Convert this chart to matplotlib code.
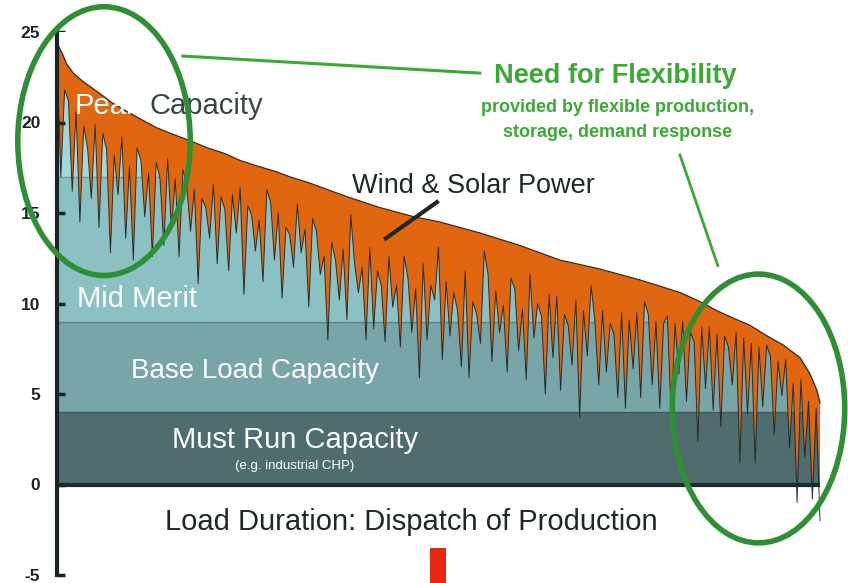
import numpy as np
import matplotlib
matplotlib.use("Agg")
import matplotlib.pyplot as plt
from matplotlib.patches import Ellipse

plt.rcParams['font.family'] = ['Liberation Sans', 'DejaVu Sans']
plt.rcParams['axes.unicode_minus'] = False

# --- dados ---
# curva de duracao de carga (GW) x duracao (% do ano)
load_pct = [0, 0.7, 1.3, 2.2, 3.3, 4.3, 5.6, 7.2, 8.8, 10.9,
            13.1, 15.5, 17.4, 19.7, 21.9, 24.0, 26.2, 28.6, 30.5, 32.8,
            38.0, 42.3, 46.7, 50.2, 55.4, 60.7, 65.9, 71.2, 76.4, 81.7,
            84.3, 86.5, 88.6, 90.8, 93.1, 95.2, 97.4, 98.7, 99.6, 100]
load_gw = [24.4, 23.8, 23.2, 22.7, 22.3, 22.0, 21.6, 21.1, 20.7, 20.2,
           19.7, 19.3, 19.0, 18.6, 18.3, 17.9, 17.6, 17.3, 17.0, 16.7,
           15.9, 15.3, 14.8, 14.5, 13.9, 13.2, 12.4, 11.9, 11.3, 10.6,
           10.1, 9.6, 9.2, 8.8, 8.2, 7.7, 7.0, 6.1, 5.2, 4.5]

# carga residual (carga - eolica/solar), a cada 0.5 %
residual_gw = [
    23.4, 17.0, 21.8, 21.2, 16.2, 20.6, 14.5, 19.8, 18.6, 15.8,
    19.9, 14.2, 19.4, 18.5, 12.8, 18.2, 16.0, 19.2, 13.6, 17.6,
    12.4, 18.6, 17.9, 14.8, 17.2, 12.6, 17.8, 16.9, 13.2, 18.0,
    14.1, 16.9, 12.6, 17.4, 16.5, 14.0, 16.3, 11.1, 15.8, 15.3,
    13.6, 16.6, 12.2, 15.9, 15.2, 11.8, 16.0, 13.9, 16.4, 10.5,
    15.4, 14.9, 12.9, 14.6, 11.2, 16.3, 15.6, 12.4, 15.0, 10.3,
    14.2, 13.8, 12.0, 15.5, 12.8, 14.1, 9.8, 14.7, 14.0, 11.6,
    12.6, 8.0, 13.4, 12.4, 10.2, 13.0, 9.1, 14.9, 12.2, 10.6,
    12.0, 8.0, 13.1, 8.6, 11.8, 11.0, 7.9, 12.6, 9.8, 11.0,
    7.6, 12.6, 11.4, 8.4, 10.8, 5.9, 12.2, 8.0, 11.0, 10.2,
    13.1, 6.9, 11.2, 8.2, 10.6, 9.6, 6.5, 11.8, 5.9, 10.1,
    9.4, 7.8, 12.9, 11.6, 6.8, 10.7, 8.4, 9.9, 6.2, 11.4,
    10.8, 7.4, 9.7, 5.8, 11.6, 8.1, 10.0, 9.3, 5.0, 10.5,
    7.0, 10.4, 5.2, 9.4, 8.8, 6.6, 10.2, 3.7, 9.6, 7.1,
    11.0, 9.0, 5.5, 9.6, 6.2, 8.9, 8.3, 4.8, 9.5, 4.2,
    9.1, 6.4, 9.5, 4.8, 10.1, 9.4, 5.5, 9.0, 4.2, 8.9,
    9.3, 3.7, 8.9, 6.1, 9.0, 4.6, 8.4, 7.9, 2.4, 8.7,
    5.3, 8.7, 4.1, 8.3, 3.2, 8.2, 7.6, 5.5, 8.4, 1.2,
    8.1, 3.9, 7.8, 1.2, 7.6, 4.3, 7.7, 7.1, 2.8, 6.8,
    4.9, 6.9, 2.0, 5.6, -1.0, 5.8, 1.5, 4.6, -0.8, 4.2,
    -2.0]
res_pct = np.linspace(0, 100, len(residual_gw))

# faixas de despacho (GW)
band_lo = [0, 4, 9, 17]
band_hi = [4, 9, 17, 25]
band_colors = ['#4f6d6e', '#78a5a7', '#8cc1c3', '#a0d9db']
band_edge = ['#1d2a2a', '#3f5a5b', '#5e8486', '#6f9fa1']

yticks = [-5, 0, 5, 10, 15, 20, 25]

red_pct = [49.95]
red_top = [-3.5]
red_bottom = -5.5

orange = '#e0660f'
green = '#3aa935'
dark = '#1e2828'

load_pct = np.array(load_pct)
load_gw = np.array(load_gw)
residual_gw = np.array(residual_gw)

fig = plt.figure(figsize=(8.48, 5.83), dpi=100)
ax = fig.add_axes([57 / 848, 8 / 583, 791 / 848, 543 / 583])
ax.set_xlim(0, 103.67)
ax.set_ylim(-5, 25)

# faixas (retangulos) + linhas separadoras
for lo, hi, c in zip(band_lo, band_hi, band_colors):
    ax.fill_between([0, 100], lo, hi, color=c, lw=0, zorder=1)
for lo, ec in zip(band_lo[1:], band_edge[1:]):
    x_end = np.interp(lo, load_gw[::-1], load_pct[::-1])
    ax.hlines(lo, 0, x_end, color=ec, lw=1.0, zorder=1.2)

# eolica + solar = carga - residual
poly_x = np.concatenate([load_pct, res_pct[::-1]])
poly_y = np.concatenate([load_gw, np.clip(residual_gw, 0, None)[::-1]])
ax.fill(poly_x, poly_y, color=orange, lw=0, zorder=1.5)
ax.plot(res_pct, residual_gw, color='#1a2424', lw=0.7, alpha=0.9, zorder=1.6)

# branco acima da curva de carga
ax.fill_between(load_pct, load_gw, 27, color='white', lw=0, zorder=1.8)
ax.plot(load_pct, load_gw, color='#3b2412', lw=0.9, zorder=1.9)
ax.hlines(0, 0, 100, color=band_edge[0], lw=3, zorder=1.9)

ax.bar(red_pct, [t - red_bottom for t in red_top], bottom=red_bottom, width=2.1,
       color='#e8280e', clip_on=False, zorder=2)

# eixos
for s in ['top', 'right', 'bottom']:
    ax.spines[s].set_visible(False)
ax.spines['left'].set_linewidth(3)
ax.spines['left'].set_color('#1b2424')
ax.spines['left'].set_zorder(3)
ax.set_xticks([])
ax.set_yticks(yticks)
ax.tick_params(axis='y', direction='in', length=6, width=2.5, pad=12,
               labelsize=12.5, colors='#1b2424')
for lbl in ax.get_yticklabels():
    lbl.set_fontweight('bold')

# textos
peak = ax.text(2.36, 20.46, 'Peak', color='white', fontsize=21, va='baseline', zorder=6)
ax.annotate('Capacity', xy=(1, 0), xycoords=peak, xytext=(6, 0),
            textcoords='offset points', color='#3a4646', fontsize=21,
            va='bottom', ha='left', zorder=6)
ax.text(2.6, 9.79, 'Mid Merit', color='white', fontsize=21, va='baseline', zorder=6)
ax.text(26.0, 5.86, 'Base Load Capacity', color='white', fontsize=20,
        ha='center', va='baseline', zorder=6)
ax.text(31.2, 1.99, 'Must Run Capacity', color='white', fontsize=21,
        ha='center', va='baseline', zorder=6)
ax.text(31.2, 1.0, '(e.g. industrial CHP)', color='white', fontsize=9.5,
        ha='center', va='center', zorder=6)
ax.text(46.4, -2.49, 'Load Duration: Dispatch of Production', color=dark,
        fontsize=21, ha='center', va='baseline', zorder=6)
ax.text(38.66, 16.1, 'Wind & Solar Power', color=dark, fontsize=19.5,
        va='baseline', zorder=6)
ax.plot([43.1, 49.8], [13.6, 15.6], color=dark, lw=3, zorder=5)

ax.text(73.2, 22.18, 'Need for Flexibility', color=green, fontsize=19.5,
        fontweight='bold', ha='center', va='baseline', zorder=6)
ax.text(73.5, 20.58, 'provided by flexible production,', color=green, fontsize=13,
        fontweight='bold', ha='center', va='baseline', zorder=6)
ax.text(73.5, 19.19, 'storage, demand response', color=green, fontsize=13,
        fontweight='bold', ha='center', va='baseline', zorder=6)
ax.plot([16.5, 55.4], [23.67, 22.73], color=green, lw=2.2, clip_on=False, zorder=5)
ax.plot([81.65, 86.6], [18.2, 12.1], color=green, lw=2.0, clip_on=False, zorder=5)

for cx, cy in [(6.16, 18.97), (91.94, 4.2)]:
    e = Ellipse((cx, cy), 22.6, 14.85, fill=False, ec='#2f8f34', lw=4,
                clip_on=False, zorder=7)
    ax.add_patch(e)

fig.savefig('out.png', dpi=100)
